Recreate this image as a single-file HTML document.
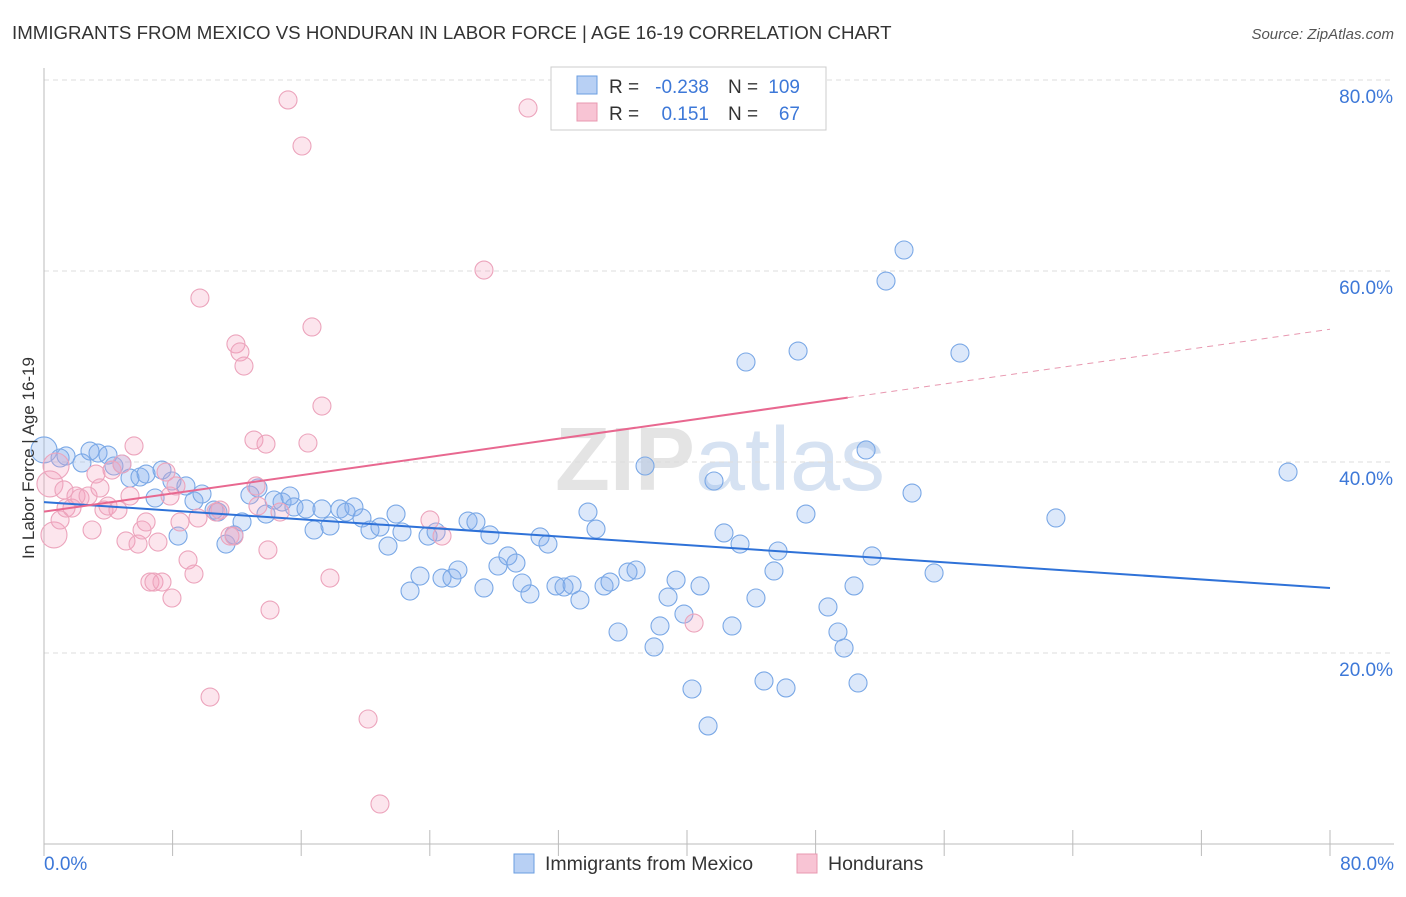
<!DOCTYPE html>
<html><head><meta charset="utf-8"><style>
body{margin:0;background:#fff;font-family:"Liberation Sans",sans-serif;}
svg text{font-family:"Liberation Sans",sans-serif;}
</style></head><body>
<svg id="chart" width="1406" height="892" xmlns="http://www.w3.org/2000/svg">
<text x="12" y="39" font-size="18.7" fill="#333">IMMIGRANTS FROM MEXICO VS HONDURAN IN LABOR FORCE | AGE 16-19 CORRELATION CHART</text>
<text x="1394" y="39" font-size="15" fill="#555" font-style="italic" text-anchor="end">Source: ZipAtlas.com</text>
<text x="720" y="490" font-size="90" fill="#e4e4e4" text-anchor="middle" font-family="Liberation Serif"><tspan font-weight="bold">ZIP</tspan><tspan fill="#d6e2f2">atlas</tspan></text>
<g id="grid"></g><g id="pts"></g><g id="trend"></g>
<text transform="translate(34,458) rotate(-90)" font-size="17" fill="#333" text-anchor="middle">In Labor Force | Age 16-19</text>
<g>
<rect x="551" y="67" width="275" height="63" fill="#fff" stroke="#ccc"/>
<rect x="577" y="76" width="20" height="18" fill="#b8d0f4" stroke="#6a9ee0"/>
<rect x="577" y="103" width="20" height="18" fill="#f8c4d4" stroke="#e898b0"/>
<text x="609" y="93" font-size="19" fill="#333">R =</text>
<text x="709" y="93" font-size="19" fill="#3d78d8" text-anchor="end">-0.238</text>
<text x="728" y="93" font-size="19" fill="#333">N =</text>
<text x="800" y="93" font-size="19" fill="#3d78d8" text-anchor="end">109</text>
<text x="609" y="120" font-size="19" fill="#333">R =</text>
<text x="709" y="120" font-size="19" fill="#3d78d8" text-anchor="end">0.151</text>
<text x="728" y="120" font-size="19" fill="#333">N =</text>
<text x="800" y="120" font-size="19" fill="#3d78d8" text-anchor="end">67</text>
</g>
<g>
<rect x="514" y="854" width="20" height="19" fill="#b8d0f4" stroke="#6a9ee0"/>
<text x="545" y="870" font-size="19.5" fill="#333">Immigrants from Mexico</text>
<rect x="797" y="854" width="20" height="19" fill="#f8c4d4" stroke="#e898b0"/>
<text x="828" y="870" font-size="19.5" fill="#333">Hondurans</text>
</g>
</svg>
<script>
const yTicks=[20,40,60,80];
const xTickLabels=["0.0%","80.0%"];
const bluePx=[[44,450],[60,458],[66,456],[82,463],[90,451],[98,453],[108,455],[114,466],[122,464],[130,478],[140,477],[146,474],[155,498],[162,470],[172,481],[178,536],[186,486],[194,501],[202,494],[214,510],[218,512],[226,544],[234,535],[242,522],[250,495],[258,488],[266,514],[274,500],[282,502],[290,496],[294,507],[306,509],[314,530],[322,509],[330,526],[340,509],[346,512],[354,507],[362,518],[370,530],[380,527],[388,546],[396,514],[402,532],[410,591],[420,576],[428,536],[436,532],[442,578],[452,578],[458,570],[468,521],[476,522],[484,588],[490,535],[498,566],[508,556],[516,563],[522,583],[530,594],[540,537],[548,544],[556,586],[564,587],[572,585],[580,600],[588,512],[596,529],[604,586],[610,582],[618,632],[628,572],[636,570],[645,466],[654,647],[660,626],[668,597],[676,580],[684,614],[692,689],[700,586],[708,726],[714,481],[724,533],[732,626],[740,544],[746,362],[756,598],[764,681],[774,571],[778,551],[786,688],[798,351],[806,514],[828,607],[838,632],[844,648],[854,586],[858,683],[866,450],[872,556],[886,281],[904,250],[912,493],[934,573],[960,353],[1056,518],[1288,472]];
const pinkPx=[[50,484],[54,535],[56,466],[60,520],[64,490],[66,508],[72,508],[76,496],[80,498],[88,496],[92,530],[96,474],[100,488],[104,510],[108,506],[112,470],[118,510],[122,464],[126,541],[130,496],[134,446],[138,544],[142,530],[146,522],[150,582],[154,582],[158,542],[162,582],[166,472],[170,496],[172,598],[176,486],[180,522],[188,560],[194,574],[198,518],[200,298],[210,697],[216,512],[220,510],[230,536],[234,536],[236,344],[240,352],[244,366],[254,440],[256,486],[258,506],[266,444],[268,550],[270,610],[280,512],[288,100],[302,146],[308,443],[312,327],[322,406],[330,578],[368,719],[380,804],[430,520],[442,536],[484,270],[528,108],[694,623]];
const blueX=bluePx.map(p=>+((p[0]-44)/16.075).toFixed(2));
const blueY=bluePx.map(p=>+((844-p[1])/9.55).toFixed(2));
const pinkX=pinkPx.map(p=>+((p[0]-44)/16.075).toFixed(2));
const pinkY=pinkPx.map(p=>+((844-p[1])/9.55).toFixed(2));
const blueTrend=[35.8,26.8];
const pinkTrend=[34.8,53.9];
const pinkSolidEnd=50;
const NS="http://www.w3.org/2000/svg";
const sx=v=>44+v*16.075, sy=v=>844-v*9.55;
function mk(tag,attrs,parent){const e=document.createElementNS(NS,tag);for(const k in attrs)e.setAttribute(k,attrs[k]);parent.appendChild(e);return e;}
const grid=document.getElementById('grid'),pts=document.getElementById('pts'),tr=document.getElementById('trend');
yTicks.forEach(t=>{
 const l=mk('line',{x1:44,x2:1394,y1:sy(t),y2:sy(t),stroke:'#ddd','stroke-dasharray':'5,4'},grid);
 
 
 const tx=mk('text',{x:1393,y:sy(t)+23,'font-size':19,fill:'#3d78d8','text-anchor':'end'},grid);tx.textContent=t.toFixed(1)+'%';
 
 
});
const ax=mk('line',{x1:44,x2:44,y1:68,y2:844,stroke:'#bbb'},grid);


const bx=mk('line',{x1:44,x2:1394,y1:844,y2:844,stroke:'#bbb'},grid);


for(let i=0;i<=10;i++){const t=mk('line',{x1:sx(i*8),x2:sx(i*8),y1:830,y2:856,stroke:'#bbb'},grid);
 
 }
[[0,44,'start'],[1,1394,'end']].forEach(([i,x,a])=>{const t=mk('text',{x:x,y:870,'font-size':19,fill:'#3d78d8','text-anchor':a},grid);t.textContent=xTickLabels[i];
 
 });
function dots(X,Y,fill,stroke,name){X.forEach((x,i)=>{const r=(x<1)?13:9;const c=mk('circle',{cx:sx(x),cy:sy(Y[i]),r:r,fill:fill,stroke:stroke,'stroke-width':1.1},pts);
 
 });}
dots(blueX,blueY,'rgba(130,172,238,0.28)','#7aa8e6','mexico-point');
dots(pinkX,pinkY,'rgba(245,160,190,0.28)','#eca4bc','honduran-point');
const bl=mk('line',{x1:sx(0),y1:sy(blueTrend[0]),x2:sx(80),y2:sy(blueTrend[1]),stroke:'#2f72d8','stroke-width':2},tr);


const pm=pinkTrend[0]+(pinkTrend[1]-pinkTrend[0])*pinkSolidEnd/80;
const pl=mk('line',{x1:sx(0),y1:sy(pinkTrend[0]),x2:sx(pinkSolidEnd),y2:sy(pm),stroke:'#e86890','stroke-width':2},tr);


const pd=mk('line',{x1:sx(pinkSolidEnd),y1:sy(pm),x2:sx(80),y2:sy(pinkTrend[1]),stroke:'#e898b0','stroke-width':1,'stroke-dasharray':'6,5'},tr);


</script>
</body></html>
